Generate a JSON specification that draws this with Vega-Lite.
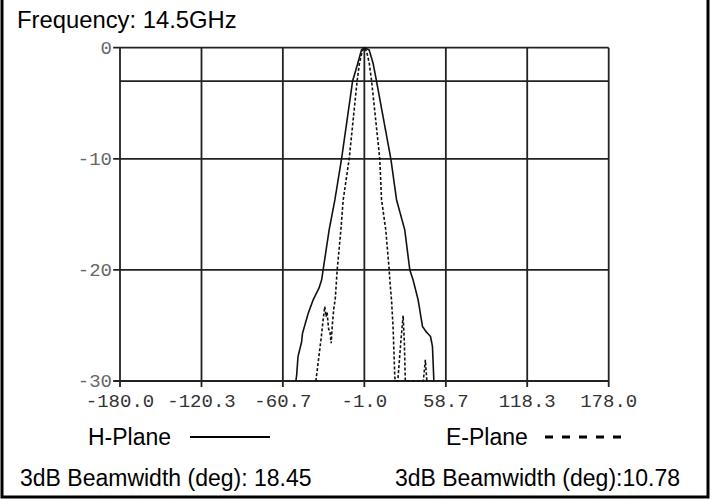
{
  "$schema": "https://vega.github.io/schema/vega-lite/v6.json",
  "width": 706,
  "height": 500,
  "autosize": {"type": "none"},
  "padding": {"left": 2, "top": -3, "right": 7, "bottom": 2},
  "background": "white",
  "config": {"view": {"stroke": "#000", "strokeWidth": 3}, "text": {"font": "Liberation Sans"}},
  "datasets": {
    "ticksX": [
      {"v": -180, "label": "-180.0"}, {"v": -120.3, "label": "-120.3"}, {"v": -60.7, "label": "-60.7"},
      {"v": -1.0, "label": "-1.0"}, {"v": 58.7, "label": "58.7"}, {"v": 118.3, "label": "118.3"}, {"v": 178, "label": "178.0"}
    ],
    "ticksY": [
      {"v": 0, "label": "0"}, {"v": -10, "label": "-10"}, {"v": -20, "label": "-20"}, {"v": -30, "label": "-30"}
    ],
    "refLine": [{"level": -3}],
    "pattern": [
      {"plane": "H-Plane", "angle": -51.2, "gain": -30},
      {"plane": "H-Plane", "angle": -50.6, "gain": -29.5},
      {"plane": "H-Plane", "angle": -49.6, "gain": -27.8},
      {"plane": "H-Plane", "angle": -47.0, "gain": -26.5},
      {"plane": "H-Plane", "angle": -46.3, "gain": -25.7},
      {"plane": "H-Plane", "angle": -42.1, "gain": -23.9},
      {"plane": "H-Plane", "angle": -38.5, "gain": -22.7},
      {"plane": "H-Plane", "angle": -34.1, "gain": -21.6},
      {"plane": "H-Plane", "angle": -32.3, "gain": -20.9},
      {"plane": "H-Plane", "angle": -31.2, "gain": -20},
      {"plane": "H-Plane", "angle": -26.8, "gain": -16.4},
      {"plane": "H-Plane", "angle": -22.6, "gain": -13.7},
      {"plane": "H-Plane", "angle": -17.7, "gain": -10},
      {"plane": "H-Plane", "angle": -9.6, "gain": -3},
      {"plane": "H-Plane", "angle": -5.8, "gain": -1.4},
      {"plane": "H-Plane", "angle": -3.1, "gain": -0.2},
      {"plane": "H-Plane", "angle": -1.0, "gain": 0},
      {"plane": "H-Plane", "angle": 2.5, "gain": -0.2},
      {"plane": "H-Plane", "angle": 5.4, "gain": -1.4},
      {"plane": "H-Plane", "angle": 7.9, "gain": -3},
      {"plane": "H-Plane", "angle": 18.4, "gain": -10},
      {"plane": "H-Plane", "angle": 22.6, "gain": -13.7},
      {"plane": "H-Plane", "angle": 28.6, "gain": -16.4},
      {"plane": "H-Plane", "angle": 32.3, "gain": -20},
      {"plane": "H-Plane", "angle": 34.7, "gain": -20.9},
      {"plane": "H-Plane", "angle": 38.4, "gain": -22.7},
      {"plane": "H-Plane", "angle": 41.6, "gain": -25.1},
      {"plane": "H-Plane", "angle": 44.5, "gain": -25.6},
      {"plane": "H-Plane", "angle": 47.5, "gain": -26.0},
      {"plane": "H-Plane", "angle": 48.9, "gain": -26.9},
      {"plane": "H-Plane", "angle": 49.9, "gain": -29.9},
      {"plane": "H-Plane", "angle": 50.0, "gain": -30},
      {"plane": "E-Plane", "angle": -36.5, "gain": -30},
      {"plane": "E-Plane", "angle": -34.5, "gain": -28},
      {"plane": "E-Plane", "angle": -32.5, "gain": -26},
      {"plane": "E-Plane", "angle": -31.2, "gain": -24.5},
      {"plane": "E-Plane", "angle": -30.0, "gain": -23.3},
      {"plane": "E-Plane", "angle": -29.0, "gain": -24.2},
      {"plane": "E-Plane", "angle": -28.3, "gain": -23.8},
      {"plane": "E-Plane", "angle": -27.2, "gain": -25.3},
      {"plane": "E-Plane", "angle": -26.2, "gain": -25.6},
      {"plane": "E-Plane", "angle": -25.3, "gain": -26.6},
      {"plane": "E-Plane", "angle": -24.5, "gain": -25.0},
      {"plane": "E-Plane", "angle": -23.4, "gain": -23.5},
      {"plane": "E-Plane", "angle": -22.3, "gain": -22.6},
      {"plane": "E-Plane", "angle": -20.9, "gain": -20},
      {"plane": "E-Plane", "angle": -18.2, "gain": -16.4},
      {"plane": "E-Plane", "angle": -16.5, "gain": -13.7},
      {"plane": "E-Plane", "angle": -12.1, "gain": -10},
      {"plane": "E-Plane", "angle": -6.3, "gain": -3},
      {"plane": "E-Plane", "angle": -4.6, "gain": -1.4},
      {"plane": "E-Plane", "angle": -2.5, "gain": -0.3},
      {"plane": "E-Plane", "angle": -1.0, "gain": 0},
      {"plane": "E-Plane", "angle": 0.6, "gain": -0.3},
      {"plane": "E-Plane", "angle": 2.6, "gain": -1.4},
      {"plane": "E-Plane", "angle": 4.3, "gain": -3},
      {"plane": "E-Plane", "angle": 10.3, "gain": -10},
      {"plane": "E-Plane", "angle": 11.6, "gain": -13.7},
      {"plane": "E-Plane", "angle": 14.7, "gain": -16.4},
      {"plane": "E-Plane", "angle": 17.2, "gain": -20},
      {"plane": "E-Plane", "angle": 17.7, "gain": -21},
      {"plane": "E-Plane", "angle": 18.9, "gain": -22.7},
      {"plane": "E-Plane", "angle": 20.1, "gain": -25.3},
      {"plane": "E-Plane", "angle": 21.3, "gain": -29.6},
      {"plane": "E-Plane", "angle": 21.7, "gain": -30},
      {"plane": "E-Plane", "angle": 23.5, "gain": -30},
      {"plane": "E-Plane", "angle": 25.7, "gain": -26.5},
      {"plane": "E-Plane", "angle": 27.4, "gain": -24.1},
      {"plane": "E-Plane", "angle": 28.3, "gain": -26.5},
      {"plane": "E-Plane", "angle": 29.0, "gain": -30},
      {"plane": "E-Plane", "angle": 42.2, "gain": -30},
      {"plane": "E-Plane", "angle": 43.7, "gain": -28.1},
      {"plane": "E-Plane", "angle": 44.8, "gain": -30}
    ],
    "notes": [
      {"plane": "H-Plane", "beam": "3dB Beamwidth (deg): 18.45"},
      {"plane": "E-Plane", "beam": "3dB Beamwidth (deg):10.78"}
    ],
    "info": [{"freq": "Frequency: 14.5GHz"}]
  },
  "layer": [
    {
      "data": {"name": "ticksX"},
      "mark": {"type": "rule", "color": "#222", "strokeWidth": 1.8},
      "encoding": {
        "x": {"field": "v", "type": "quantitative", "axis": null, "scale": {"domain": [-266.44, 250.74], "nice": false, "zero": false}},
        "y": {"datum": 0, "type": "quantitative", "axis": null, "scale": {"domain": [-40.44, 4.563], "nice": false, "zero": false}},
        "y2": {"datum": -30.55}
      }
    },
    {
      "data": {"name": "ticksY"},
      "mark": {"type": "rule", "color": "#222", "strokeWidth": 1.8},
      "encoding": {
        "y": {"field": "v", "type": "quantitative", "axis": null, "scale": {"domain": [-40.44, 4.563], "nice": false, "zero": false}},
        "x": {"datum": -185, "type": "quantitative", "axis": null, "scale": {"domain": [-266.44, 250.74], "nice": false, "zero": false}},
        "x2": {"datum": 178}
      }
    },
    {
      "data": {"name": "refLine"},
      "mark": {"type": "rule", "color": "#222", "strokeWidth": 1.8},
      "encoding": {
        "y": {"field": "level", "type": "quantitative", "axis": null, "scale": {"domain": [-40.44, 4.563], "nice": false, "zero": false}},
        "x": {"datum": -180, "type": "quantitative", "axis": null, "scale": {"domain": [-266.44, 250.74], "nice": false, "zero": false}},
        "x2": {"datum": 178}
      }
    },
    {
      "data": {"name": "ticksX"},
      "mark": {"type": "text", "font": "Liberation Mono", "fontSize": 19, "color": "#333", "baseline": "middle", "dy": 20},
      "encoding": {
        "x": {"field": "v", "type": "quantitative", "axis": null, "scale": {"domain": [-266.44, 250.74], "nice": false, "zero": false}},
        "y": {"datum": -30, "type": "quantitative", "axis": null, "scale": {"domain": [-40.44, 4.563], "nice": false, "zero": false}},
        "text": {"field": "label"}
      }
    },
    {
      "data": {"name": "ticksY"},
      "mark": {"type": "text", "font": "Liberation Mono", "fontSize": 19, "color": "#666", "baseline": "middle", "align": "right", "dx": -8},
      "encoding": {
        "y": {"field": "v", "type": "quantitative", "axis": null, "scale": {"domain": [-40.44, 4.563], "nice": false, "zero": false}},
        "x": {"datum": -180, "type": "quantitative", "axis": null, "scale": {"domain": [-266.44, 250.74], "nice": false, "zero": false}},
        "text": {"field": "label"}
      }
    },
    {
      "data": {"name": "pattern"},
      "mark": {"type": "line", "color": "#111", "strokeWidth": 1.6},
      "encoding": {
        "x": {"field": "angle", "type": "quantitative", "axis": null, "scale": {"domain": [-266.44, 250.74], "nice": false, "zero": false}},
        "y": {"field": "gain", "type": "quantitative", "axis": null, "scale": {"domain": [-40.44, 4.563], "nice": false, "zero": false}},
        "strokeDash": {"field": "plane", "type": "nominal", "legend": null, "scale": {"domain": ["H-Plane", "E-Plane"], "range": [[1, 0], [3, 2]]}}
      }
    },
    {
      "data": {"name": "info"},
      "mark": {"type": "text", "fontSize": 23.8, "color": "#000", "align": "left", "baseline": "alphabetic"},
      "encoding": {
        "x": {"datum": -255.45, "type": "quantitative", "axis": null, "scale": {"domain": [-266.44, 250.74], "nice": false, "zero": false}},
        "y": {"datum": 1.746, "type": "quantitative", "axis": null, "scale": {"domain": [-40.44, 4.563], "nice": false, "zero": false}},
        "text": {"field": "freq"}
      }
    },
    {
      "data": {"name": "notes"},
      "transform": [{"filter": "datum.plane === 'H-Plane'"}],
      "layer": [
        {
          "mark": {"type": "text", "fontSize": 23, "color": "#000", "align": "left", "baseline": "alphabetic"},
          "encoding": {
            "x": {"datum": -203.44, "type": "quantitative", "axis": null, "scale": {"domain": [-266.44, 250.74], "nice": false, "zero": false}},
            "y": {"datum": -35.76, "type": "quantitative", "axis": null, "scale": {"domain": [-40.44, 4.563], "nice": false, "zero": false}},
            "text": {"field": "plane"}
          }
        },
        {
          "mark": {"type": "rule", "color": "#000", "strokeWidth": 2},
          "encoding": {
            "x": {"datum": -128.72, "type": "quantitative", "axis": null, "scale": {"domain": [-266.44, 250.74], "nice": false, "zero": false}},
            "x2": {"datum": -70.12},
            "y": {"datum": -35.04, "type": "quantitative", "axis": null, "scale": {"domain": [-40.44, 4.563], "nice": false, "zero": false}}
          }
        },
        {
          "mark": {"type": "text", "fontSize": 23, "color": "#000", "align": "left", "baseline": "alphabetic"},
          "encoding": {
            "x": {"datum": -253.25, "type": "quantitative", "axis": null, "scale": {"domain": [-266.44, 250.74], "nice": false, "zero": false}},
            "y": {"datum": -39.45, "type": "quantitative", "axis": null, "scale": {"domain": [-40.44, 4.563], "nice": false, "zero": false}},
            "text": {"field": "beam"}
          }
        }
      ]
    },
    {
      "data": {"name": "notes"},
      "transform": [{"filter": "datum.plane === 'E-Plane'"}],
      "layer": [
        {
          "mark": {"type": "text", "fontSize": 23, "color": "#000", "align": "left", "baseline": "alphabetic"},
          "encoding": {
            "x": {"datum": 58.81, "type": "quantitative", "axis": null, "scale": {"domain": [-266.44, 250.74], "nice": false, "zero": false}},
            "y": {"datum": -35.76, "type": "quantitative", "axis": null, "scale": {"domain": [-40.44, 4.563], "nice": false, "zero": false}},
            "text": {"field": "plane"}
          }
        },
        {
          "mark": {"type": "rule", "color": "#000", "strokeWidth": 3, "strokeDash": [8, 9]},
          "encoding": {
            "x": {"datum": 131.33, "type": "quantitative", "axis": null, "scale": {"domain": [-266.44, 250.74], "nice": false, "zero": false}},
            "x2": {"datum": 187.74},
            "y": {"datum": -35.04, "type": "quantitative", "axis": null, "scale": {"domain": [-40.44, 4.563], "nice": false, "zero": false}}
          }
        },
        {
          "mark": {"type": "text", "fontSize": 23, "color": "#000", "align": "right", "baseline": "alphabetic"},
          "encoding": {
            "x": {"datum": 230.23, "type": "quantitative", "axis": null, "scale": {"domain": [-266.44, 250.74], "nice": false, "zero": false}},
            "y": {"datum": -39.45, "type": "quantitative", "axis": null, "scale": {"domain": [-40.44, 4.563], "nice": false, "zero": false}},
            "text": {"field": "beam"}
          }
        }
      ]
    }
  ]
}
